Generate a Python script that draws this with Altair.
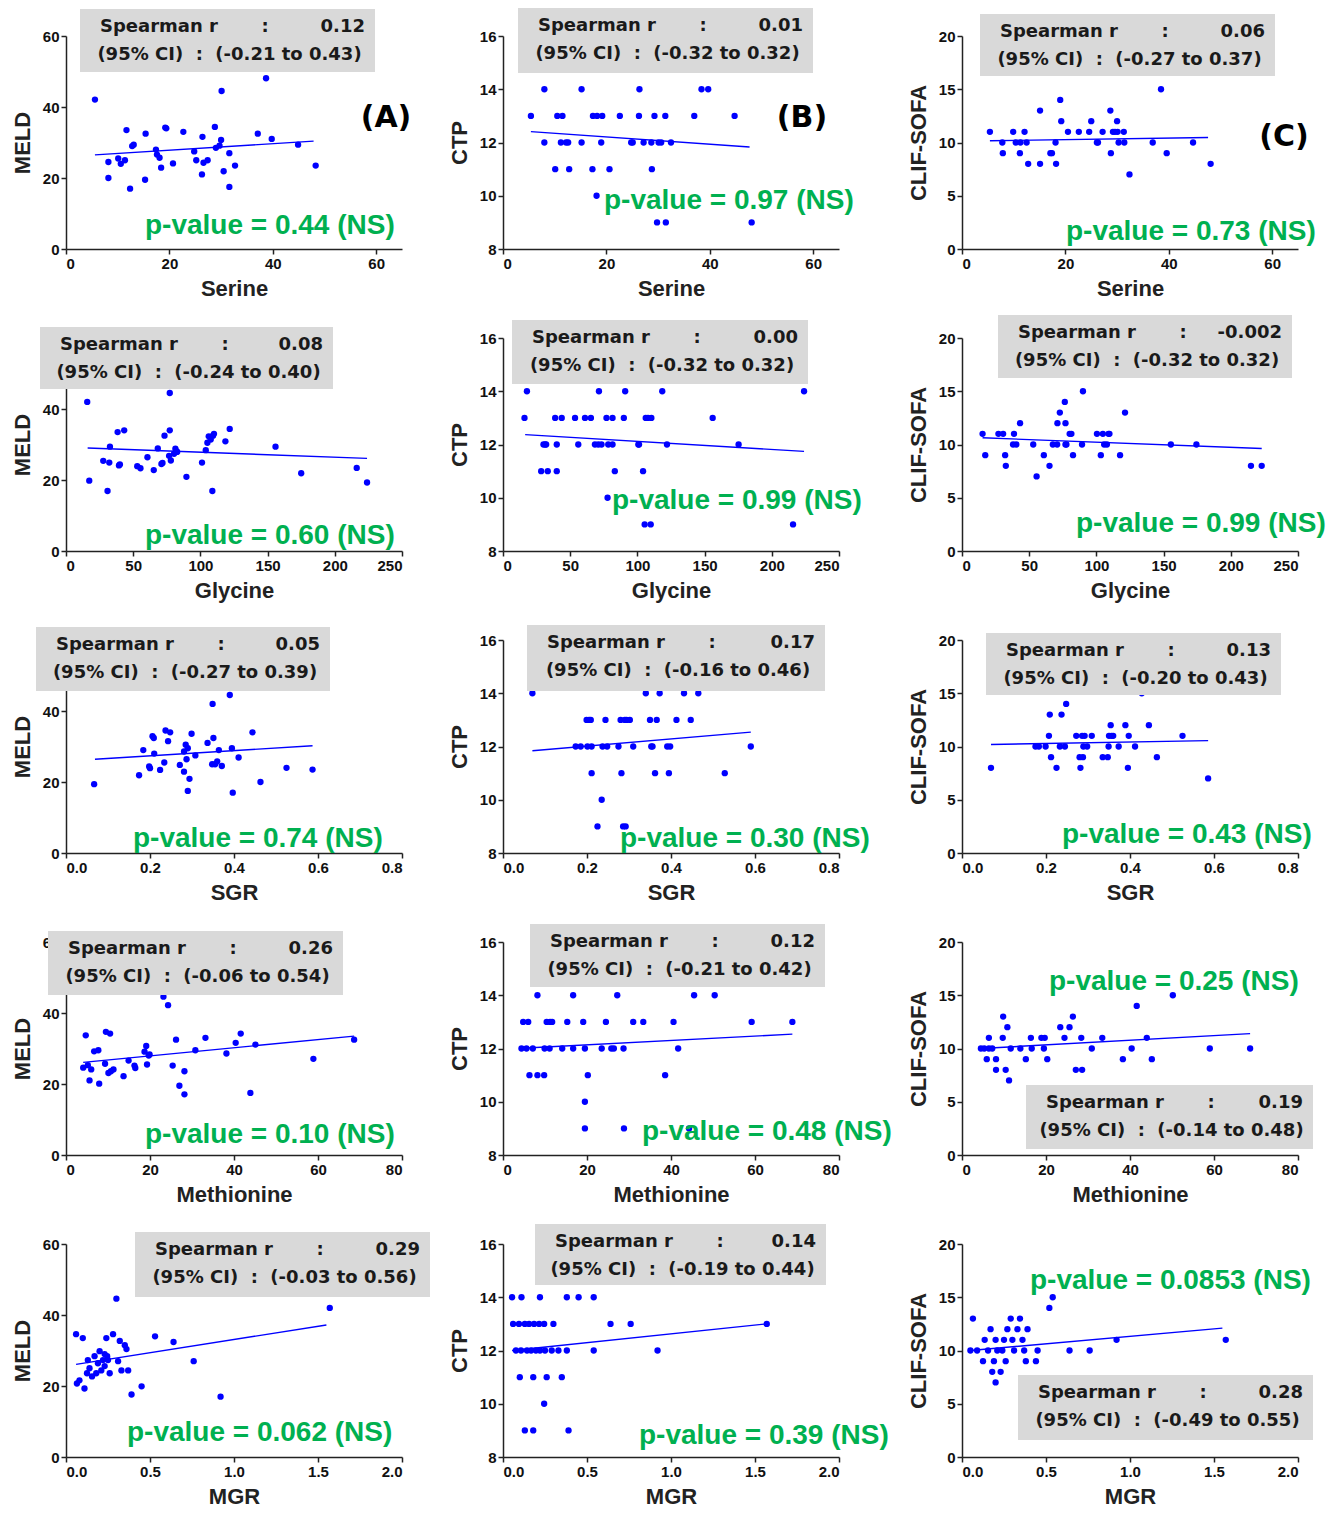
import altair as alt
import pandas as pd

# ---------------- data ----------------
serine_meld_x = [5.6,8.2,8.2,10.1,10.6,11.4,11.7,12.4,12.8,13.1,15.3,15.4,17.4,17.6,18.1,18.4,19.2,19.4,20.7,22.7,24.8,25.2,26.3,26.4,26.6,27.4,28.8,29.0,29.7,30.0,30.1,30.5,31.6,31.6,32.7,37.1,38.7,39.8,44.9,48.3]
serine_meld_y = [42.1,24.5,20.0,25.5,24.0,25.0,33.5,17.0,29.0,29.4,19.5,32.5,28.0,26.6,25.7,22.9,34.2,34.0,24.1,33.0,27.5,25.0,21.0,31.6,24.3,25.0,34.4,28.5,29.1,30.7,44.5,21.9,27.0,17.5,23.5,32.5,48.1,31.0,29.4,23.5]
serine_ctp_x = [5.4,8.0,8.0,10.1,10.5,11.2,11.5,12.2,12.6,12.8,15.2,15.2,17.3,17.4,18.1,18.2,19.0,19.2,20.6,22.6,24.8,25.1,26.3,26.4,27.2,28.7,28.8,29.3,29.8,30.1,30.6,31.4,31.5,32.5,37.0,38.4,39.7,44.8,48.1]
serine_ctp_y = [13,14,12,11,13,12,13,12,12,11,14,12,11,13,10,13,12,13,11,13,12,12,13,14,12,12,11,13,9,12,12,13,9,12,13,14,14,13,9]
serine_clif_x = [5.4,7.8,7.9,9.9,10.4,11.2,11.3,12.1,12.5,12.8,15.1,15.1,17.1,17.4,18.1,18.2,19.0,19.2,20.5,22.6,24.6,25.0,26.1,26.3,27.2,28.7,28.8,29.2,29.6,30.0,30.1,30.3,31.3,31.4,32.4,36.9,38.5,39.6,44.7,48.1]
serine_clif_y = [11,10,9,11,10,9,10,11,10,8,13,8,9,9,10,8,14,12,11,11,11,12,10,10,11,13,9,11,11,12,11,10,11,10,7,10,15,9,10,8]

glycine_meld_x = [15.8,17.3,27.7,30.9,32.7,32.2,38.4,39.4,40.1,43.3,53.0,55.4,60.6,65.3,68.3,71.0,71.8,73.3,76.7,77.2,77.2,78.0,80.4,81.4,82.2,82.7,89.6,101.2,104.0,105.2,106.2,107.7,108.9,109.4,110.1,118.6,121.8,155.9,175.0,216.3,224.0]
glycine_meld_y = [42,19.8,25.4,16.9,29.4,24.9,33.5,24.1,24.4,34,23.9,23.3,26.4,22.8,28.9,24.5,24.8,32.5,26.8,44.5,34,25.5,27.4,28.8,28.1,27.9,20.9,24.9,28.4,30.5,32.3,31.4,16.9,32.5,33,30.9,34.4,29.4,21.9,23.4,19.3]
glycine_ctp_x = [16,17.8,30.1,28.4,31.4,32.1,33.3,38.8,40,40,43.7,53.6,56,61,65.4,68.4,70.9,71.4,73.3,77,77.8,78.3,81.5,81.5,83.2,89.9,90.9,100.7,101.2,104.2,105.4,106.2,107.9,109.9,110.4,118.5,122,156,175.3,215.8,224]
glycine_ctp_y = [13,14,12,11,12,12,11,13,12,11,13,13,12,13,13,12,12,14,12,13,10,12,12,13,11,13,14,12,12,11,9,13,13,9,13,14,12,13,12,9,14]
glycine_clif_x = [15.3,17.3,27.1,30.6,32.1,32.6,38.7,38,40.4,43.2,53,55.5,60.9,65.1,67.6,70.8,71,72.8,76.5,77,77,77.7,80.1,81.4,82.6,89.3,90,100.4,103.3,104.8,105.8,107.8,109,109.7,117.6,121.3,155.4,174.4,215,223]
glycine_clif_y = [11,9,11,11,9,8,11,10,10,12,10,7,9,8,10,10,12,13,14,12,10,10,11,11,9,10,15,11,9,11,10,10,11,11,9,13,10,10,8,8]

sgr_meld_x = [0.067,0.174,0.184,0.198,0.200,0.206,0.209,0.210,0.224,0.234,0.237,0.243,0.248,0.271,0.281,0.281,0.285,0.287,0.290,0.290,0.294,0.299,0.308,0.337,0.348,0.349,0.351,0.355,0.360,0.364,0.371,0.390,0.395,0.397,0.411,0.444,0.463,0.525,0.587]
sgr_meld_y = [19.4,21.9,29.0,24.4,23.9,32.9,32.4,28.0,23.4,25.5,34.5,31.5,34.0,24.8,22.9,28.6,30.5,26.4,29.5,17.5,20.9,33.6,27.5,31.0,25.0,42.0,32.4,25.0,25.8,29.0,24.5,44.5,29.5,17.0,26.9,34.0,20.0,24.0,23.5]
sgr_ctp_x = [0.07,0.173,0.185,0.199,0.201,0.205,0.209,0.211,0.211,0.225,0.235,0.237,0.244,0.248,0.275,0.28,0.282,0.286,0.29,0.292,0.294,0.302,0.31,0.34,0.35,0.353,0.356,0.362,0.366,0.373,0.391,0.395,0.398,0.413,0.431,0.447,0.465,0.528,0.59]
sgr_ctp_y = [14,12,12,13,12,13,13,12,11,9,10,12,13,12,12,13,11,9,13,9,13,13,12,14,13,12,12,11,13,14,12,11,12,13,14,13,14,11,12]
sgr_clif_x = [0.069,0.175,0.183,0.199,0.207,0.209,0.212,0.225,0.233,0.237,0.245,0.248,0.272,0.28,0.282,0.286,0.288,0.289,0.292,0.298,0.309,0.335,0.347,0.349,0.35,0.354,0.356,0.36,0.373,0.389,0.395,0.397,0.412,0.428,0.445,0.464,0.525,0.586]
sgr_clif_y = [8,10,10,10,11,13,9,8,10,13,10,14,11,9,8,11,9,10,11,10,11,9,9,10,11,12,11,11,10,12,8,11,10,15,12,9,11,7]

met_meld_x = [4.1,4.7,5.2,5.6,6.0,6.7,7.7,7.9,9.3,9.5,10.1,10.5,10.7,11.3,13.7,14.9,16.3,16.5,18.7,19.1,19.3,19.7,19.9,23.2,24.3,25.4,26.2,27.0,28.2,28.2,30.8,33.2,38.2,40.4,41.6,43.9,45.1,58.9,68.6]
met_meld_y = [24.6,33.7,25.3,21.0,24.1,29.2,29.5,20.1,25.7,34.7,23.1,34.2,23.6,24.1,22.2,26.6,25.2,24.5,29.1,30.7,25.5,28.0,28.3,44.6,42.2,25.2,32.5,19.5,23.6,17.1,29.5,33.0,28.6,31.6,34.2,17.5,31.1,27.1,32.5]
met_ctp_x = [4.4,4.8,5.6,6.0,6.3,7.1,8.2,8.2,9.8,9.9,10.4,11.1,11.2,11.7,14.1,15.3,16.7,16.7,19.1,19.5,19.5,19.5,20.2,23.5,24.5,25.8,26.4,27.2,28.7,28.8,31.0,33.4,38.6,40.6,41.7,44.3,45.5,50.4,59.2,68.9]
met_ctp_y = [12,13,12,13,11,12,14,11,11,12,13,12,13,13,12,13,14,12,13,12,10,9,11,12,13,12,12,14,12,9,13,13,11,13,12,9,14,14,13,13]
met_clif_x = [4.5,5.3,5.9,6.4,6.4,7.2,8.1,8.1,9.7,9.8,10.4,10.8,11.2,11.6,13.9,15.2,16.4,16.6,18.9,19.5,19.7,20.3,23.4,24.4,25.6,26.4,27.1,28.4,28.6,30.9,33.4,38.3,40.4,41.6,44.0,45.2,50.2,59.0,68.6]
met_clif_y = [10,10,9,11,10,10,9,8,11,13,8,12,7,10,10,9,11,10,11,10,11,9,12,11,12,13,8,11,8,10,11,9,10,14,11,9,15,10,10]

mgr_meld_x = [0.06,0.065,0.08,0.10,0.11,0.125,0.13,0.14,0.155,0.17,0.18,0.19,0.20,0.21,0.22,0.23,0.23,0.245,0.25,0.26,0.24,0.28,0.30,0.32,0.31,0.35,0.36,0.33,0.37,0.39,0.45,0.53,0.64,0.76,0.92,1.57]
mgr_meld_y = [34.6,20.7,21.6,33.5,19.3,23.6,27.3,25.0,22.7,28.4,23.6,26.4,29.8,24.4,27.3,29.0,25.6,28.4,27.3,23.6,33.5,34.6,44.6,32.7,27.0,31.5,30.4,24.4,24.4,17.6,19.9,34.0,32.4,27.0,17.0,42.0]
mgr_ctp_x = [0.054,0.11,0.22,0.38,0.45,0.54,0.06,0.095,0.13,0.155,0.185,0.215,0.245,0.30,0.64,0.76,1.57,0.077,0.107,0.143,0.167,0.196,0.22,0.25,0.29,0.33,0.38,0.54,0.92,0.10,0.18,0.26,0.35,0.245,0.13,0.18,0.39]
mgr_ctp_y = [14,14,14,14,14,14,13,13,13,13,13,13,13,13,13,13,13,12,12,12,12,12,12,12,12,12,12,12,12,11,11,11,11,10,9,9,9]
mgr_clif_x = [0.065,0.05,0.09,0.125,0.135,0.155,0.17,0.18,0.19,0.2,0.2,0.21,0.23,0.24,0.25,0.26,0.27,0.29,0.3,0.31,0.33,0.345,0.36,0.37,0.38,0.39,0.44,0.45,0.52,0.54,0.64,0.76,0.92,1.57]
mgr_clif_y = [13,10,10,9,11,10,12,8,9,7,11,10,8,10,11,9,12,13,11,10,12,13,11,10,9,12,9,10,14,15,10,10,11,11]

# fitted-line end points
fit_lines = {
    "1A": ([5.6, 47.9], [26.5, 30.4]), "1B": ([5.4, 47.7], [12.41, 11.83]), "1C": ([5.4, 47.6], [10.16, 10.47]),
    "2A": ([16.1, 224], [29.0, 26.1]), "2B": ([16.5, 224], [12.37, 11.74]), "2C": ([15.3, 223], [10.63, 9.62]),
    "3A": ([0.069, 0.587], [26.4, 30.2]), "3B": ([0.07, 0.59], [11.84, 12.54]), "3C": ([0.069, 0.586], [10.19, 10.55]),
    "4A": ([4.1, 68.6], [26.1, 33.5]), "4B": ([4.4, 68.9], [12.01, 12.54]), "4C": ([4.5, 68.6], [10.0, 11.4]),
    "5A": ([0.06, 1.55], [26.1, 37.2]), "5B": ([0.054, 1.57], [12.0, 13.0]), "5C": ([0.05, 1.55], [10.0, 12.1]),
}

spearman_r = {"1A": "0.12", "1B": "0.01", "1C": "0.06", "2A": "0.08", "2B": "0.00", "2C": "-0.002",
              "3A": "0.05", "3B": "0.17", "3C": "0.13", "4A": "0.26", "4B": "0.12", "4C": "0.19",
              "5A": "0.29", "5B": "0.14", "5C": "0.28"}
spearman_ci = {"1A": "(-0.21 to 0.43)", "1B": "(-0.32 to 0.32)", "1C": "(-0.27 to 0.37)",
               "2A": "(-0.24 to 0.40)", "2B": "(-0.32 to 0.32)", "2C": "(-0.32 to 0.32)",
               "3A": "(-0.27 to 0.39)", "3B": "(-0.16 to 0.46)", "3C": "(-0.20 to 0.43)",
               "4A": "(-0.06 to 0.54)", "4B": "(-0.21 to 0.42)", "4C": "(-0.14 to 0.48)",
               "5A": "(-0.03 to 0.56)", "5B": "(-0.19 to 0.44)", "5C": "(-0.49 to 0.55)"}
p_values = {"1A": "0.44", "1B": "0.97", "1C": "0.73", "2A": "0.60", "2B": "0.99", "2C": "0.99",
            "3A": "0.74", "3B": "0.30", "3C": "0.43", "4A": "0.10", "4B": "0.48", "4C": "0.25",
            "5A": "0.062", "5B": "0.39", "5C": "0.0853"}

x_axes = {
    "1": ("Serine", [0, 65], [0, 20, 40, 60], "d"),
    "2": ("Glycine", [0, 250], [0, 50, 100, 150, 200, 250], "d"),
    "3": ("SGR", [0, 0.8], [0.0, 0.2, 0.4, 0.6, 0.8], ".1f"),
    "4": ("Methionine", [0, 80], [0, 20, 40, 60, 80], "d"),
    "5": ("MGR", [0, 2.0], [0.0, 0.5, 1.0, 1.5, 2.0], ".1f"),
}
y_axes = {
    "A": ("MELD", [0, 60], [0, 20, 40, 60]),
    "B": ("CTP", [8, 16], [8, 10, 12, 14, 16]),
    "C": ("CLIF-SOFA", [0, 20], [0, 5, 10, 15, 20]),
}
series = {
    "1A": (serine_meld_x, serine_meld_y), "1B": (serine_ctp_x, serine_ctp_y), "1C": (serine_clif_x, serine_clif_y),
    "2A": (glycine_meld_x, glycine_meld_y), "2B": (glycine_ctp_x, glycine_ctp_y), "2C": (glycine_clif_x, glycine_clif_y),
    "3A": (sgr_meld_x, sgr_meld_y), "3B": (sgr_ctp_x, sgr_ctp_y), "3C": (sgr_clif_x, sgr_clif_y),
    "4A": (met_meld_x, met_meld_y), "4B": (met_ctp_x, met_ctp_y), "4C": (met_clif_x, met_clif_y),
    "5A": (mgr_meld_x, mgr_meld_y), "5B": (mgr_ctp_x, mgr_ctp_y), "5C": (mgr_clif_x, mgr_clif_y),
}

# annotation layout (pixels, relative to each plot area)
box_pos = {"1A": (14, 309, -27, 36), "1B": (15, 310, -28, 37), "1C": (18, 313, -22, 40),
           "2A": (-26, 267, -11, 51), "2B": (9, 305, -18, 46), "2C": (36, 330, -23, 40),
           "3A": (-30, 264, -13, 51), "3B": (24, 322, -15, 51), "3C": (24, 319, -7, 55),
           "4A": (-18, 277, -11, 53), "4B": (27, 322, -18, 45), "4C": (64, 351, 143, 207),
           "5A": (69, 364, -12, 53), "5B": (32, 323, -20, 41), "5C": (56, 351, 131, 196)}
pval_pos = {"1A": (79, 190), "1B": (101, 165), "1C": (104, 196),
            "2A": (79, 198), "2B": (109, 163), "2C": (114, 186),
            "3A": (67, 199), "3B": (117, 199), "3C": (100, 195),
            "4A": (79, 193), "4B": (139, 190), "4C": (87, 40),
            "5A": (61, 189), "5B": (136, 192), "5C": (68, 37)}
panel_tags = {"1A": ("(A)", 320, 82), "1B": ("(B)", 299, 82), "1C": ("(C)", 322, 101)}

W, H = 336, 213
BOX_FONT = "DejaVu Sans"
AX_FONT = "Liberation Sans"
BLUE = "#0000ff"
GREEN = "#00b050"
one = pd.DataFrame({"k": [0]})


def txt(x, y, s, **kw):
    return alt.Chart(one).mark_text(**kw).encode(x=alt.value(x), y=alt.value(y), text=alt.value(s))


def panel(key):
    row, col = key[0], key[1]
    xt, xdom, xticks, xfmt = x_axes[row]
    yt, ydom, yticks = y_axes[col]
    xs, ys = series[key]
    lx, ly = fit_lines[key]
    xsc = alt.Scale(domain=xdom, nice=False, zero=False)
    ysc = alt.Scale(domain=ydom, nice=False, zero=False)
    df = pd.DataFrame({"x": xs, "y": ys})
    dl = pd.DataFrame({"x": lx, "y": ly})
    pts = alt.Chart(df).mark_circle(size=40, color=BLUE, opacity=1).encode(
        x=alt.X("x:Q", scale=xsc, axis=alt.Axis(values=xticks, format=xfmt, title=xt)),
        y=alt.Y("y:Q", scale=ysc, axis=alt.Axis(values=yticks, title=yt)),
    )
    ln = alt.Chart(dl).mark_line(color=BLUE, strokeWidth=1.4).encode(
        x=alt.X("x:Q", scale=xsc), y=alt.Y("y:Q", scale=ysc))
    x0, x1, y0, y1 = box_pos[key]
    box = alt.Chart(one).mark_rect(color="#d9d9d9").encode(
        x=alt.value(x0), x2=alt.value(x1), y=alt.value(y0), y2=alt.value(y1))
    common = dict(font=BOX_FONT, fontWeight="bold", fontSize=18, color="#1a1a1a", baseline="middle")
    l1 = y0 + 18
    l2 = y0 + 46
    t1 = txt(x0 + 20, l1, "Spearman r", align="left", **common)
    t2 = txt(x0 + 185, l1, ":", align="center", **common)
    t3 = txt(x1 - 10, l1, spearman_r[key], align="right", **common)
    t4 = txt((x0 + x1) / 2 + 2, l2, "(95% CI)\u00a0\u00a0:\u00a0\u00a0" + spearman_ci[key], align="center", **common)
    px, py = pval_pos[key]
    pv = txt(px, py, "p-value = " + p_values[key] + " (NS)", align="left", baseline="middle",
             font=AX_FONT, fontWeight="bold", fontSize=28, color=GREEN)
    layers = [pts, ln, box, t1, t2, t3, t4, pv]
    if key in panel_tags:
        s, tx, ty = panel_tags[key]
        layers.append(txt(tx, ty, s, align="center", baseline="middle", font=BOX_FONT,
                          fontWeight="bold", fontSize=30, color="#000000"))
    return alt.layer(*layers).properties(width=W, height=H)


def spacer(w):
    return alt.Chart(one).mark_point(opacity=0).encode(
        x=alt.value(0), y=alt.value(0)).properties(width=w, height=H)


cells = []
for r in "12345":
    cells += [panel(r + "A"), spacer(101), panel(r + "B"), spacer(123), panel(r + "C")]

chart = alt.concat(
    *cells, columns=5, spacing={"row": 89, "column": 0}, bounds="flush", align="each"
).properties(
    padding={"left": 3, "top": 0, "right": 0, "bottom": 0}
).configure_axis(
    labelFont=AX_FONT, labelFontWeight="bold", labelFontSize=15, labelColor="#111111",
    titleFont=AX_FONT, titleFontWeight="bold", titleFontSize=22, titleColor="#222222",
    domainColor="#222222", domainWidth=1.5, tickColor="#222222", tickWidth=1.5, tickSize=5,
    grid=False, labelPadding=2,
).configure_axisX(titlePadding=7).configure_axisY(titlePadding=8).configure_view(stroke=None)

chart.save("out.html", embed_options={"renderer": "svg", "actions": False})
